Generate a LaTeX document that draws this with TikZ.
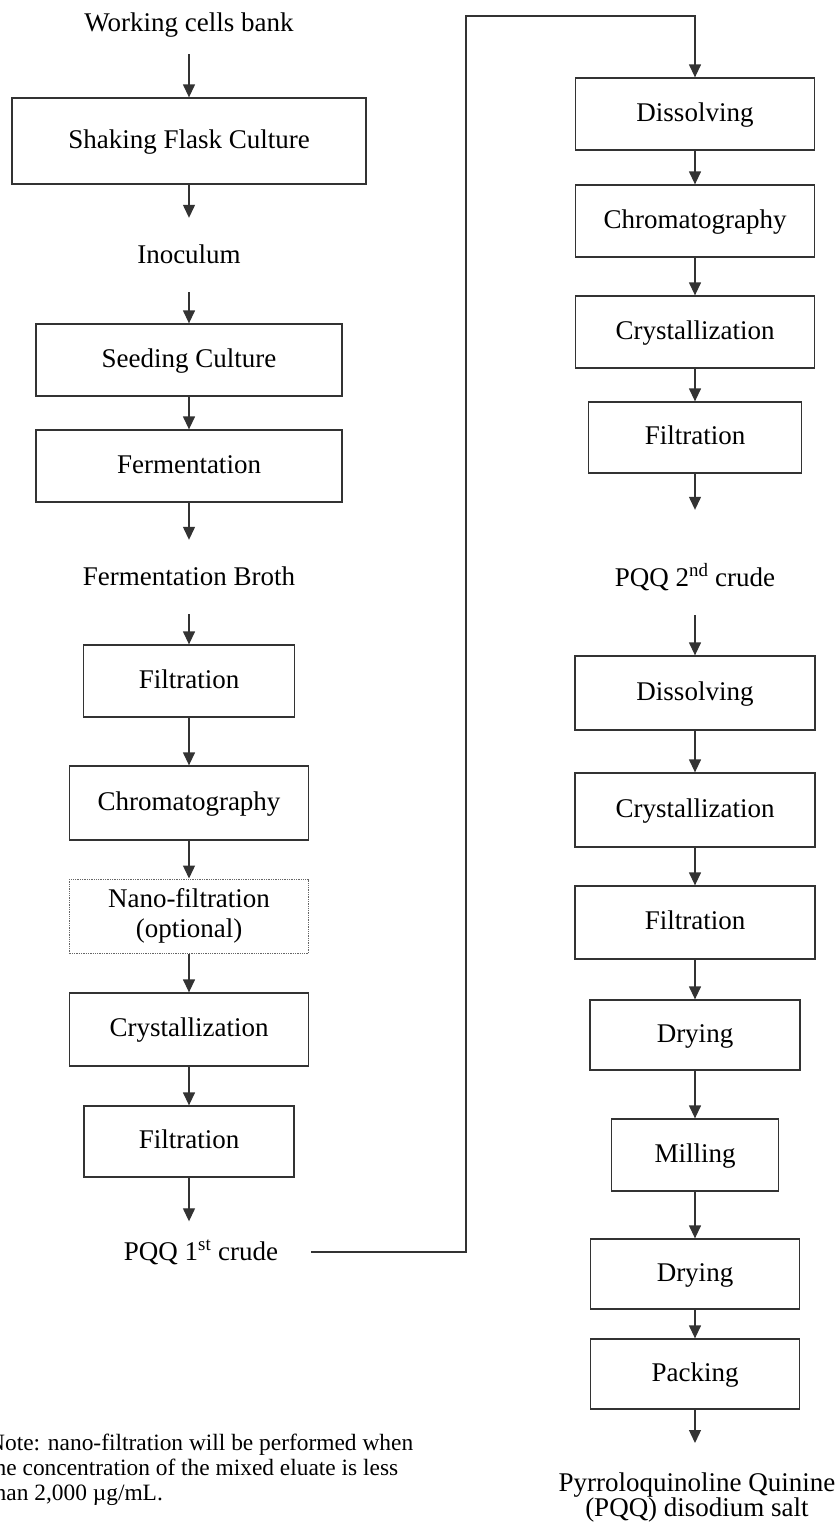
\documentclass[tikz,border=0pt]{standalone}
\usepackage{fontspec}
\setmainfont{Liberation Serif}
\usetikzlibrary{arrows.meta}

\begin{document}
\begin{tikzpicture}[x=1pt,y=-1pt,
		box/.style={draw=black!80,line width=1.3pt,inner sep=0pt,text height=18pt,text depth=4pt,font=\fontsize{27}{30}\selectfont},
		lbl/.style={inner xsep=0pt,inner ysep=24pt,text height=21pt,text depth=5pt,font=\fontsize{27}{32}\selectfont},
		arr/.style={draw=black!80,line width=1.3pt,-{Triangle[width=12pt,length=13pt]}}]
	\useasboundingbox (0,0) rectangle (840,1527);
	\node[lbl] (bank) at (189,23) {Working cells bank};
	\node[box,minimum width=354pt,minimum height=86pt] (shake) at (189,141) {Shaking Flask Culture};
	\node[lbl] (inoc) at (189,255) {Inoculum};
	\node[box,minimum width=306pt,minimum height=72pt] (seed) at (189,360) {Seeding Culture};
	\node[box,minimum width=306pt,minimum height=72pt] (ferm) at (189,466) {Fermentation};
	\node[lbl] (broth) at (189,577) {Fermentation Broth};
	\node[box,minimum width=211pt,minimum height=72pt] (filtA) at (189,681) {Filtration};
	\node[box,minimum width=239pt,minimum height=74pt] (chromA) at (189,803) {Chromatography};
	\node[box,draw=black!60,densely dotted,line width=1pt,align=center,text height=,text depth=,minimum width=239pt,minimum height=74pt] (nano) at (189,916) {Nano-filtration\\(optional)};
	\node[box,minimum width=239pt,minimum height=73pt] (crystA) at (189,1029.5) {Crystallization};
	\node[box,minimum width=210pt,minimum height=71pt] (filtB) at (189,1141.5) {Filtration};
	\node[lbl] (crudeA) at (201,1252) {PQQ 1\textsuperscript{st} crude};
	\node[box,minimum width=239pt,minimum height=72pt] (dissA) at (695,114) {Dissolving};
	\node[box,minimum width=239pt,minimum height=72pt] (chromB) at (695,221) {Chromatography};
	\node[box,minimum width=239pt,minimum height=72pt] (crystB) at (695,332) {Crystallization};
	\node[box,minimum width=213pt,minimum height=71pt] (filtC) at (695,437.5) {Filtration};
	\node[lbl] (crudeB) at (695,578) {PQQ 2\textsuperscript{nd} crude};
	\node[box,minimum width=240pt,minimum height=74pt] (dissB) at (695,693) {Dissolving};
	\node[box,minimum width=240pt,minimum height=74pt] (crystC) at (695,810) {Crystallization};
	\node[box,minimum width=240pt,minimum height=73pt] (filtD) at (695,922.5) {Filtration};
	\node[box,minimum width=210pt,minimum height=70pt] (dryA) at (695,1035) {Drying};
	\node[box,minimum width=167pt,minimum height=72pt] (mill) at (695,1155) {Milling};
	\node[box,minimum width=209pt,minimum height=70pt] (dryB) at (695,1274) {Drying};
	\node[box,minimum width=209pt,minimum height=70pt] (pack) at (695,1374) {Packing};
	\node[anchor=north,align=center,inner sep=0pt,font=\fontsize{27}{25}\selectfont] (salt) at (697,1473) {Pyrroloquinoline Quinine\\(PQQ) disodium salt};
	\node[anchor=north west,align=left,inner sep=0pt,font=\fontsize{23.4}{25}\selectfont] (note) at (-12,1434) {Note: nano-filtration will be performed when\\the concentration of the mixed eluate is less\\than 2,000 µg/mL.};
	\coordinate (turn) at (466,16);

	\draw[arr,shorten <=-6pt] (bank) -- (shake);
	\draw[arr] (shake) -- (inoc);
	\draw[arr] (inoc) -- (seed);
	\draw[arr] (seed) -- (ferm);
	\draw[arr] (ferm) -- (broth);
	\draw[arr] (broth) -- (filtA);
	\draw[arr] (filtA) -- (chromA);
	\draw[arr] (chromA) -- (nano);
	\draw[arr] (nano) -- (crystA);
	\draw[arr] (crystA) -- (filtB);
	\draw[arr,shorten >=-6.5pt] (filtB) -- (filtB |- crudeA.north);
	\draw[arr] ([xshift=33pt]crudeA.east) -| (turn) -| (dissA.north);
	\draw[arr] (dissA) -- (chromB);
	\draw[arr] (chromB) -- (crystB);
	\draw[arr] (crystB) -- (filtC);
	\draw[arr,shorten >=31pt] (filtC) -- (crudeB);
	\draw[arr] (crudeB) -- (dissB);
	\draw[arr] (dissB) -- (crystC);
	\draw[arr] (crystC) -- (filtD);
	\draw[arr] (filtD) -- (dryA);
	\draw[arr] (dryA) -- (mill);
	\draw[arr] (mill) -- (dryB);
	\draw[arr] (dryB) -- (pack);
	\draw[arr,shorten >=30pt] (pack) -- (pack |- salt.north);
\end{tikzpicture}
\end{document}
